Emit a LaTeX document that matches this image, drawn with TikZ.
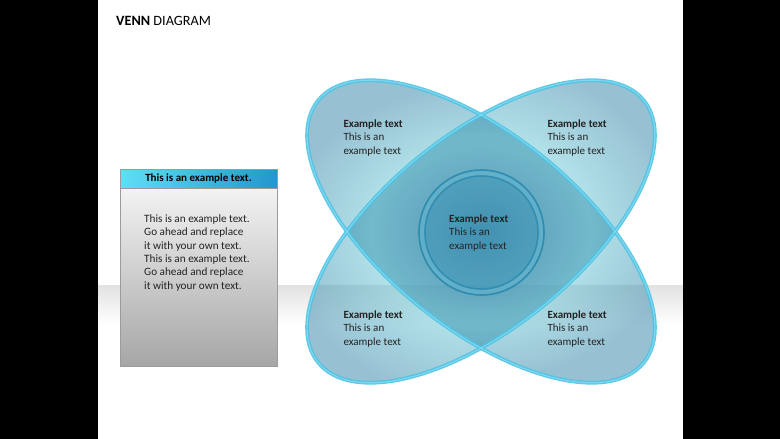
\documentclass[tikz,border=0pt]{standalone}
\usepackage{fontspec}
\setmainfont{Carlito}
\definecolor{lobein}{RGB}{100,195,210}
\definecolor{lobeout}{RGB}{48,132,168}
\definecolor{edgecyan}{RGB}{78,195,228}
\definecolor{edgelight}{RGB}{150,228,245}
\definecolor{overlapc}{RGB}{25,95,140}
\definecolor{ringteal}{RGB}{40,135,172}
\definecolor{ringlight}{RGB}{120,195,218}
\definecolor{circfill}{RGB}{35,140,178}
\definecolor{bandgray}{RGB}{226,226,226}
\definecolor{boxtop}{RGB}{243,243,243}
\definecolor{boxbot}{RGB}{166,166,166}
\definecolor{boxline}{RGB}{155,155,155}
\definecolor{headl}{RGB}{95,222,245}
\definecolor{headr}{RGB}{35,150,205}
\definecolor{txt}{RGB}{35,35,35}
\pgfdeclareradialshading{lobeglow}{\pgfpoint{0bp}{0bp}}{color(0bp)=(lobeout); color(7bp)=(lobeout!50!lobein); color(14bp)=(lobein); color(25bp)=(lobeout); color(50bp)=(lobeout)}
\begin{document}
\begin{tikzpicture}[x=1pt,y=-1pt,
  lobeA/.style={shift={(481,231.5)}, rotate=-38.8},
  lobeB/.style={shift={(481,231.5)}, rotate=38.8},
  lobefill/.style={fill opacity=0.5, shading=lobeglow},
  lobeedge/.style={draw=edgecyan, line width=3.8pt, draw opacity=0.9},
  lobeshine/.style={draw=edgelight, line width=1.1pt, draw opacity=0.6},
  lbl/.style={anchor=base west, inner sep=0pt, text=txt},
]
\useasboundingbox (0,0) rectangle (780,439);
\fill[white] (0,0) rectangle (780,439);
\shade[top color=bandgray, bottom color=white] (97,285) rectangle (683,325);
\fill[black] (0,0) rectangle (97.5,439);
\fill[black] (682.5,0) rectangle (780,439);

\node[anchor=base west, inner sep=0pt, text=black] (title) at (116,25.5)
  {\fontsize{14.2}{17}\selectfont\textbf{VENN} DIAGRAM};

% left box
\node[draw=boxline, line width=0.8pt, top color=boxtop, bottom color=boxbot,
  minimum width=157pt, minimum height=178pt, inner sep=0pt] (body) at (198.5,277) {};
\node[draw=boxline, line width=0.8pt, left color=headl, right color=headr,
  minimum width=157pt, minimum height=19pt, inner sep=0pt, text=black,
  font=\fontsize{11}{13}\selectfont] (head) at (198.5,178.5) {\textbf{This is an example text.}};
\node[lbl] (bodytext) at (144,222.5) {\parbox[t]{130pt}{\fontsize{11.2}{13.35}\selectfont
  This is an example text.\\Go ahead and replace\\it with your own text.\\This is an example text.\\Go ahead and replace\\it with your own text.}};

% ellipses
\shade[lobeA, lobefill] (0,0) ellipse [x radius=209, y radius=97];
\shade[lobeB, lobefill] (0,0) ellipse [x radius=209, y radius=97];
\begin{scope}
  \clip[lobeA] (0,0) ellipse [x radius=209, y radius=97];
  \fill[lobeB, overlapc, fill opacity=0.2] (0,0) ellipse [x radius=209, y radius=97];
\end{scope}
\draw[lobeA, lobeedge] (0,0) ellipse [x radius=209, y radius=97];
\draw[lobeB, lobeedge] (0,0) ellipse [x radius=209, y radius=97];
\draw[lobeA, lobeshine] (0,0) ellipse [x radius=209, y radius=97];
\draw[lobeB, lobeshine] (0,0) ellipse [x radius=209, y radius=97];

% centre circle
\fill[circfill, fill opacity=0.32] (481.5,232.5) circle [radius=63];
\draw[ringlight, line width=4.5pt, opacity=0.45] (481.5,232.5) circle [radius=59.5];
\draw[ringteal, line width=1.6pt, opacity=0.8] (481.5,232.5) circle [radius=62.5];
\draw[ringteal, line width=1.6pt, opacity=0.7] (481.5,232.5) circle [radius=56.5];

% labels
\newcommand{\lobetext}{\parbox[t]{90pt}{\fontsize{11}{13.5}\selectfont\textbf{Example text}\\This is an\\example text}}
\node[lbl] (tl) at (343.3,127.3) {\lobetext};
\node[lbl] (tr) at (547.3,127.3) {\lobetext};
\node[lbl] (cc) at (449,222.3) {\lobetext};
\node[lbl] (bl) at (343.3,318) {\lobetext};
\node[lbl] (br) at (547.3,318) {\lobetext};
\end{tikzpicture}
\end{document}
